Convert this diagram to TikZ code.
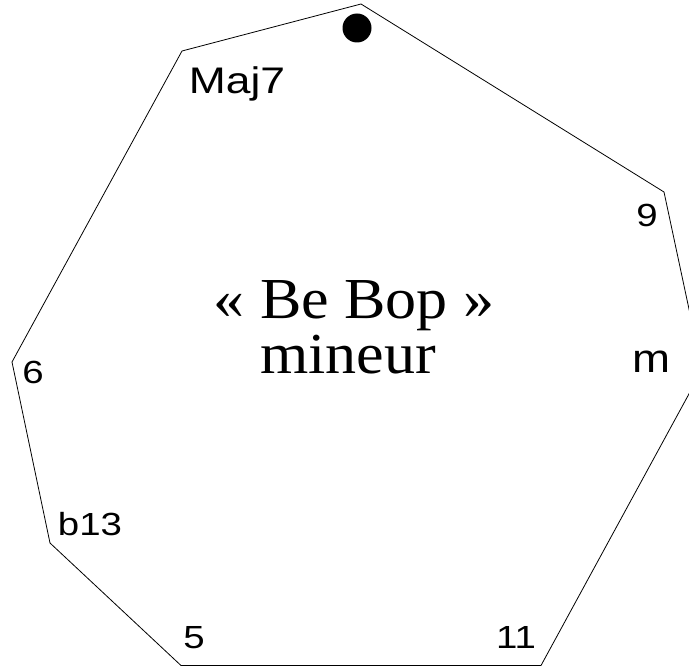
\documentclass[tikz,border=0pt]{standalone}
\usepackage{fontspec}
\setmainfont{Liberation Serif}
\newfontfamily\labfont{Liberation Sans}
\begin{document}
\begin{tikzpicture}[x=1pt,y=-1pt,
  edge/.style={draw=black,line width=0.8pt,line join=miter},
  lab/.style={anchor=base,inner sep=0pt,font=\labfont\fontsize{32}{36}\selectfont,xscale=1.2},
  title/.style={anchor=base,inner sep=0pt,font=\fontsize{58}{64}\selectfont,xscale=1.07}]
\useasboundingbox (0,0) rectangle (689,666);
\clip (0,0) rectangle (689,666);
\coordinate (v1) at (361,4);
\coordinate (v2) at (664,192);
\coordinate (v3) at (702,370);
\coordinate (v4) at (541,665.5);
\coordinate (v5) at (181,665.5);
\coordinate (v6) at (50,543);
\coordinate (v7) at (12,362);
\coordinate (v8) at (182,51);
\draw[edge] (v1) -- (v2) -- (v3) -- (v4) -- (v5) -- (v6) -- (v7) -- (v8) -- cycle;
\node[circle,fill=black,inner sep=0pt,minimum size=29pt] (dot) at (357,28) {};
\node[lab,font=\labfont\fontsize{37}{40}\selectfont,xscale=1] (maj7) at (237,94) {Maj7};
\node[lab] (nine) at (647,227) {9};
\node[lab,font=\labfont\fontsize{40}{44}\selectfont,xscale=0.95] (m) at (651,372) {m};
\node[lab] (six) at (33,383) {6};
\node[lab] (b13) at (90,535) {b13};
\node[lab] (five) at (194,648) {5};
\node[lab] (eleven) at (516,648) {11};
\node[title] (t1) at (354,318) {« Be Bop »};
\node[title] (t2) at (348,373) {mineur};
\end{tikzpicture}
\end{document}
